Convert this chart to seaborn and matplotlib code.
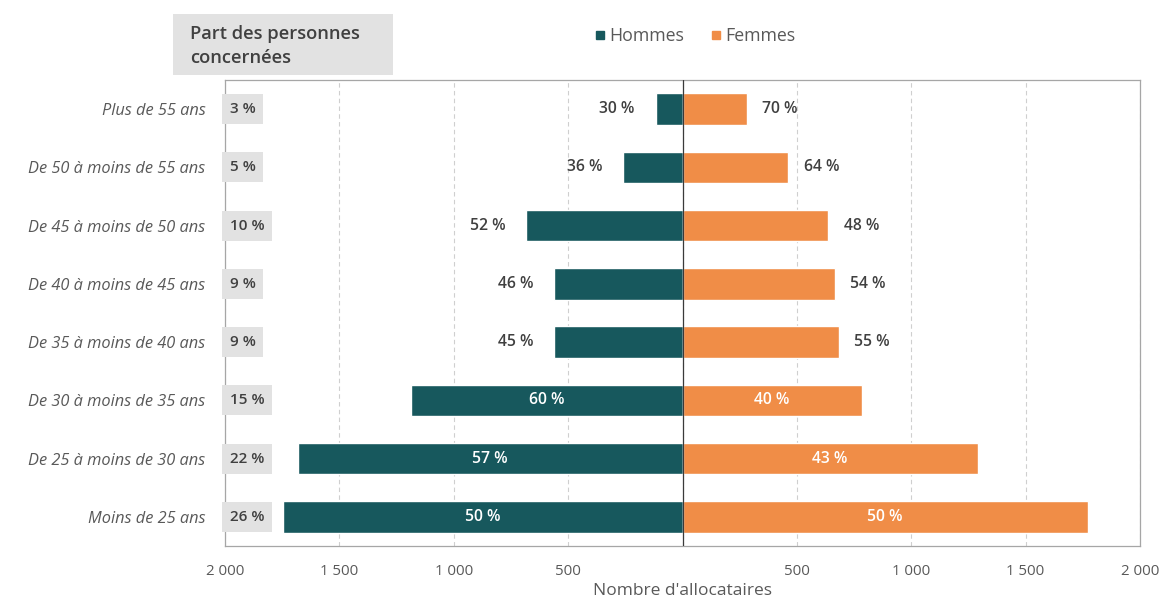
import pandas as pd
import seaborn as sns
import matplotlib.pyplot as plt
import matplotlib.transforms as mtransforms
from matplotlib.patches import Rectangle
from matplotlib.lines import Line2D

# Age groups, top to bottom
ages = [
    "Plus de 55 ans",
    "De 50 à moins de 55 ans",
    "De 45 à moins de 50 ans",
    "De 40 à moins de 45 ans",
    "De 35 à moins de 40 ans",
    "De 30 à moins de 35 ans",
    "De 25 à moins de 30 ans",
    "Moins de 25 ans",
]
# Number of recipients per age group
hommes = [118, 258, 682, 560, 560, 1185, 1683, 1745]
femmes = [280, 463, 638, 665, 682, 783, 1290, 1771]

xticks = [-2000, -1500, -1000, -500, 0, 500, 1000, 1500, 2000]
xtick_labels = ["2 000", "1 500", "1 000", "500", "", "500", "1 000", "1 500", "2 000"]

TEAL = "#17585d"
ORANGE = "#f08d47"
DARK = "#404040"
GREY_TXT = "#595959"
BOX = "#e2e2e2"

sns.set_theme(style="white")
plt.rcParams["font.family"] = ["Open Sans", "DejaVu Sans"]

df = pd.DataFrame({
    "age": ages * 2,
    "sexe": ["Hommes"] * len(ages) + ["Femmes"] * len(ages),
    "n": [-h for h in hommes] + femmes,
})

fig = plt.figure(figsize=(11.66, 6.07), dpi=100)
ax = fig.add_axes([225 / 1166, 1 - 546 / 607, (1140 - 225) / 1166, (546 - 80) / 607])

sns.barplot(data=df, y="age", x="n", hue="sexe", orient="h", dodge=False,
            palette={"Hommes": TEAL, "Femmes": ORANGE}, width=0.54,
            saturation=1, legend=False, ax=ax, zorder=2)

ax.set_xlim(-2000, 2000)
ax.set_ylim(len(ages) - 0.5, -0.5)
ax.set_xticks(xticks)
ax.set_xticklabels(xtick_labels, color=GREY_TXT, fontsize=10.8)
ax.set_yticks(range(len(ages)))
ax.set_yticklabels(ages, color=GREY_TXT, fontsize=11.8, style="italic")
ax.tick_params(axis="y", length=0, pad=14)
ax.tick_params(axis="x", direction="out", length=4, width=0.8, color="#a6a6a6", pad=9)
ax.set_xlabel("Nombre d'allocataires", color=GREY_TXT, fontsize=12.5, labelpad=3)
ax.set_ylabel("")

# dashed vertical gridlines and a solid axis at zero
ax.set_axisbelow(True)
ax.xaxis.grid(True, color="#cfcfcf", linestyle=(0, (4, 3)), linewidth=0.8)
ax.axvline(0, color="#3a3a3a", linewidth=0.9, zorder=3)
for sp in ax.spines.values():
    sp.set_visible(True)
    sp.set_color("#a6a6a6")
    sp.set_linewidth(0.9)

# percentage labels: men vs women share within each age group
totals = [h + f for h, f in zip(hommes, femmes)]
for i, (h, f) in enumerate(zip(hommes, femmes)):
    ph = round(100 * h / (h + f))
    pf = 100 - ph
    if min(h, f) > 700:
        ax.text(-h / 2, i, f"{ph} %", ha="center", va="center", color="white",
                fontsize=11.3, fontweight="semibold", zorder=4)
        ax.text(f / 2, i, f"{pf} %", ha="center", va="center", color="white",
                fontsize=11.3, fontweight="semibold", zorder=4)
    else:
        ax.annotate(f"{ph} %", xy=(-h, i), xytext=(-15, 0), textcoords="offset points",
                    ha="right", va="center", color=DARK, fontsize=11.3, fontweight="semibold")
        ax.annotate(f"{pf} %", xy=(f, i), xytext=(11, 0), textcoords="offset points",
                    ha="left", va="center", color=DARK, fontsize=11.3, fontweight="semibold")

# share of each age group in the total population
grand_total = sum(totals)
trans = mtransforms.blended_transform_factory(ax.transAxes, ax.transData)
for i, t in enumerate(totals):
    share = round(100 * t / grand_total)
    ax.text(0.005, i, f"{share} %", transform=trans, ha="left", va="center",
            color=DARK, fontsize=11, fontweight="semibold", zorder=5,
            bbox=dict(boxstyle="square,pad=0.52", fc=BOX, ec="none"))

# heading box for the share column
fig.patches.append(Rectangle((173 / 1166, 1 - 75 / 607), (393 - 173) / 1166, (75 - 14) / 607,
                             transform=fig.transFigure, facecolor=BOX, edgecolor="none"))
fig.text(190 / 1166, 1 - 46 / 607, "Part des personnes\nconcernées", ha="left", va="center",
         color=DARK, fontsize=13.2, fontweight="semibold", linespacing=1.4)

# legend
handles = [Line2D([], [], marker="s", linestyle="none", color=TEAL, markersize=6),
           Line2D([], [], marker="s", linestyle="none", color=ORANGE, markersize=6)]
fig.legend(handles, ["Hommes", "Femmes"], loc="center", bbox_to_anchor=(694 / 1166, 1 - 36 / 607),
           ncol=2, frameon=False, handletextpad=0.1, columnspacing=1.4, handlelength=0.8,
           prop={"size": 12.8}, labelcolor=GREY_TXT)

fig.savefig("out.png", dpi=100, facecolor="white")
